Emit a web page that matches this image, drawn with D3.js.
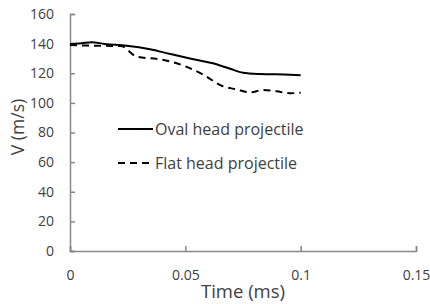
<!DOCTYPE html>
<html>
<head>
<meta charset="utf-8">
<script src="https://cdn.jsdelivr.net/npm/d3@7"></script>
<style>
  body { margin: 0; background: #fff; }
  text { font-family: "Open Sans", Lato, sans-serif; }
</style>
</head>
<body>
<svg id="chart" width="430" height="304"></svg>
<script>
// values
var ovalTime = [0, 0.005, 0.0094, 0.015, 0.0246, 0.0347, 0.043, 0.052, 0.062, 0.0694, 0.075, 0.0824, 0.0954, 0.1];
var ovalV    = [139.8, 140.3, 141.0, 139.8, 138.6, 136.2, 133.2, 130.0, 126.7, 123.0, 120.4, 119.5, 119.0, 118.6];

var flatTime = [0, 0.01, 0.022, 0.029, 0.039, 0.049, 0.058, 0.066, 0.072, 0.078, 0.0837, 0.0896, 0.0954, 0.1];
var flatV    = [139.0, 138.6, 138.4, 131.2, 129.4, 125.3, 118.8, 111.4, 109.2, 107.1, 108.7, 107.8, 106.5, 106.9];

var xTicks = [0, 0.05, 0.1, 0.15];
var yTicks = [0, 20, 40, 60, 80, 100, 120, 140, 160];
var seriesNames = ['Oval head projectile', 'Flat head projectile'];

var svg = d3.select('#chart'),
    plotLeft = 70, plotRight = 416, plotTop = 14, plotBottom = 251;

var x = d3.scaleLinear().domain([0, 0.15]).range([plotLeft, plotRight]);
var y = d3.scaleLinear().domain([0, 160]).range([plotBottom, plotTop]);

var axisColor = '#888888', textColor = '#404040';

// axes
var gx = svg.append('g').attr('transform', 'translate(0,' + plotBottom + ')')
    .call(d3.axisBottom(x).tickValues(xTicks).tickSize(-5).tickPadding(19)
        .tickFormat(function(d) { return String(+d.toFixed(2)); }));
var gy = svg.append('g').attr('transform', 'translate(' + plotLeft + ',0)')
    .call(d3.axisLeft(y).tickValues(yTicks).tickSize(-5).tickPadding(16));

[gx, gy].forEach(function(g) {
    g.select('.domain').attr('stroke', axisColor).attr('stroke-width', 1.5);
    g.selectAll('.tick line').attr('stroke', axisColor).attr('stroke-width', 1.5);
    g.selectAll('.tick text').attr('fill', textColor).style('font-size', '14px');
});

// axis titles
svg.append('text').attr('x', 243).attr('y', 298)
    .attr('text-anchor', 'middle').attr('fill', textColor).style('font-size', '18.5px')
    .text('Time (ms)');
svg.append('text').attr('transform', 'translate(24,' + 127 + ') rotate(-90)')
    .attr('text-anchor', 'middle').attr('fill', textColor).style('font-size', '17.5px')
    .text('V (m/s)');

// lines
var line = d3.line()
    .x(function(d) { return x(d[0]); })
    .y(function(d) { return y(d[1]); })
    .curve(d3.curveMonotoneX);

var series = [
    { name: seriesNames[0], data: d3.zip(ovalTime, ovalV), dash: null },
    { name: seriesNames[1], data: d3.zip(flatTime, flatV), dash: '7,5' }
];

svg.selectAll('.series').data(series).enter().append('path')
    .attr('class', 'series')
    .attr('d', function(d) { return line(d.data); })
    .attr('fill', 'none')
    .attr('stroke', '#000')
    .attr('stroke-width', 2)
    .attr('stroke-dasharray', function(d) { return d.dash; });

// legend
var legend = svg.selectAll('.legend').data(series).enter().append('g')
    .attr('class', 'legend')
    .attr('transform', function(d, i) { return 'translate(118,' + (129 + i * 34) + ')'; });

legend.append('line')
    .attr('x1', 0).attr('x2', 35).attr('y1', 0).attr('y2', 0)
    .attr('stroke', '#000').attr('stroke-width', 2)
    .attr('stroke-dasharray', function(d) { return d.dash ? '7,5' : null; });

legend.append('text')
    .attr('x', 37).attr('y', 6)
    .attr('fill', textColor).style('font-size', '16px')
    .text(function(d) { return d.name; });
</script>
</body>
</html>
